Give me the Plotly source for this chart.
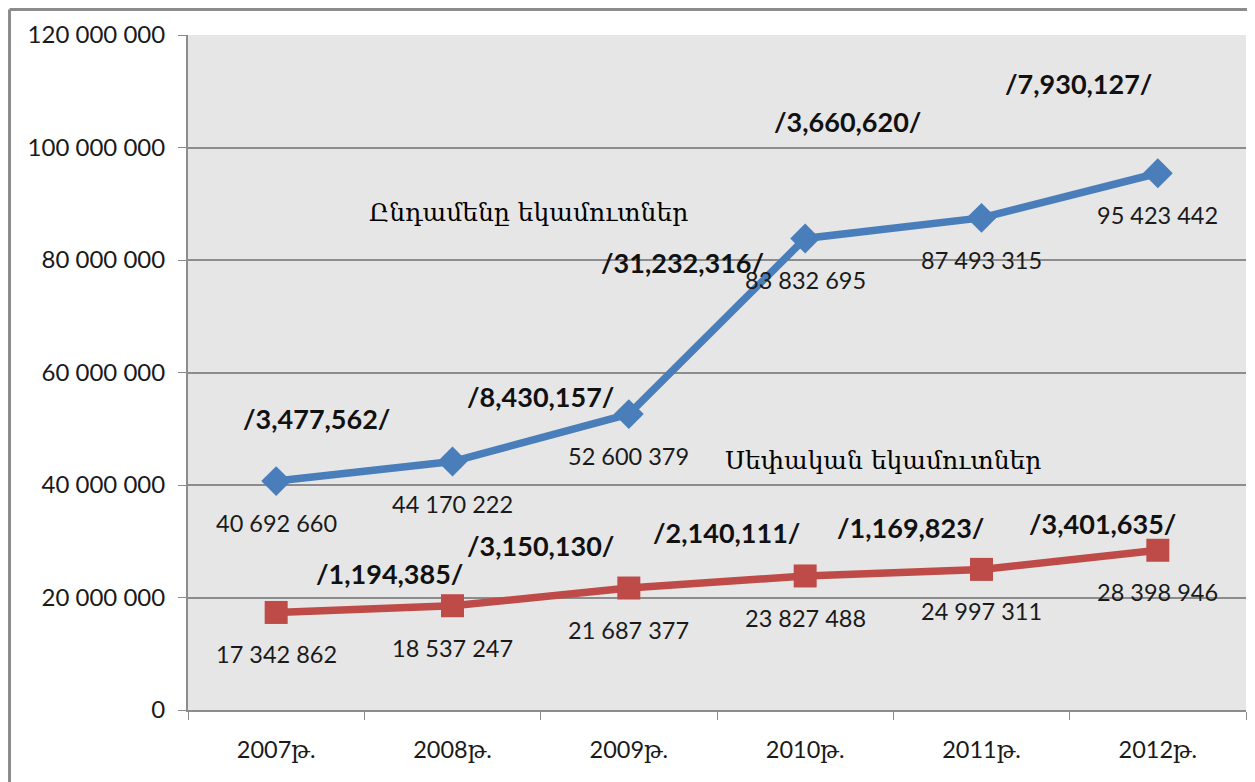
import plotly.graph_objects as go

years = ["2007թ.", "2008թ.", "2009թ.", "2010թ.", "2011թ.", "2012թ."]
total_income = [40692660, 44170222, 52600379, 83832695, 87493315, 95423442]
own_income = [17342862, 18537247, 21687377, 23827488, 24997311, 28398946]
total_growth = ["/3,477,562/", "/8,430,157/", "/31,232,316/", "/3,660,620/", "/7,930,127/"]
own_growth = ["/1,194,385/", "/3,150,130/", "/2,140,111/", "/1,169,823/", "/3,401,635/"]
total_name = "Ընդամենը եկամուտներ"
own_name = "Սեփական եկամուտներ"

BLUE = "#4a7ebb"
RED = "#be4b48"
FONT = "Lato, DejaVu Serif, sans-serif"

fig = go.Figure()
fig.add_trace(go.Scatter(x=years, y=total_income, mode="lines+markers", name=total_name,
                         line=dict(color=BLUE, width=7.5),
                         marker=dict(symbol="diamond", size=23, color=BLUE)))
fig.add_trace(go.Scatter(x=years, y=own_income, mode="lines+markers", name=own_name,
                         line=dict(color=RED, width=7.5),
                         marker=dict(symbol="square", size=23, color=RED)))

def fmt(v):
    return f"{v:,}".replace(",", " ")

ann = []
for xs, ys in ((years, total_income), (years, own_income)):
    for x, y in zip(xs, ys):
        ann.append(dict(x=x, y=y, text=fmt(y), showarrow=False, yshift=-42,
                        font=dict(family=FONT, size=23.5, color="#1a1a1a")))

# growth label placements (category-index x, value y)
total_pos = [(0.227, 51.9e6), (1.497, 55.8e6), (2.303, 79.5e6), (3.239, 104.7e6), (4.549, 111.3e6)]
own_pos = [(0.641, 24.2e6), (1.497, 29.2e6), (2.552, 31.6e6), (3.596, 32.4e6), (4.685, 33.2e6)]
for txt, (px, py) in list(zip(total_growth, total_pos)) + list(zip(own_growth, own_pos)):
    ann.append(dict(x=px, y=py, xref="x", yref="y", text=f"<b>{txt}</b>", showarrow=False,
                    font=dict(family=FONT, size=27, color="#111111")))

ann.append(dict(x=1.43, y=88.4e6, text=total_name, showarrow=False,
                font=dict(family="DejaVu Serif, serif", size=25, color="#000000")))
ann.append(dict(x=3.44, y=44.4e6, text=own_name, showarrow=False,
                font=dict(family="DejaVu Serif, serif", size=25, color="#000000")))

fig.update_layout(
    width=1247, height=774,
    margin=dict(l=180, r=9, t=27, b=72),
    paper_bgcolor="white", plot_bgcolor="#e6e6e6",
    showlegend=False,
    separators=". ",
    font=dict(family=FONT, size=20, color="#1a1a1a"),
    annotations=ann,
    shapes=[
        dict(type="line", xref="paper", yref="paper", x0=-0.1687, x1=-0.1687, y0=-0.2, y1=1.0378,
             line=dict(color="#8c8c8c", width=3)),
        dict(type="line", xref="paper", yref="paper", x0=-0.1687, x1=1.2, y0=1.0378, y1=1.0378,
             line=dict(color="#8c8c8c", width=3)),
    ],
)
fig.update_xaxes(type="category", range=[-0.5, 5.5], showgrid=False, showline=True,
                 linecolor="#8c8c8c", linewidth=2, ticks="outside", tickson="boundaries",
                 ticklen=8, tickcolor="#8c8c8c", ticklabelstandoff=18,
                 tickfont=dict(family=FONT, size=23.5, color="#1a1a1a"))
fig.update_yaxes(range=[0, 120e6], dtick=20e6, tickformat=",d", showgrid=True,
                 gridcolor="#8c8c8c", gridwidth=1.5, showline=True, linecolor="#8c8c8c",
                 linewidth=2, ticks="outside", ticklen=8, tickcolor="#8c8c8c",
                 ticklabelstandoff=8, zeroline=False,
                 tickfont=dict(family=FONT, size=24, color="#1a1a1a"))

fig.write_html("out.html")
